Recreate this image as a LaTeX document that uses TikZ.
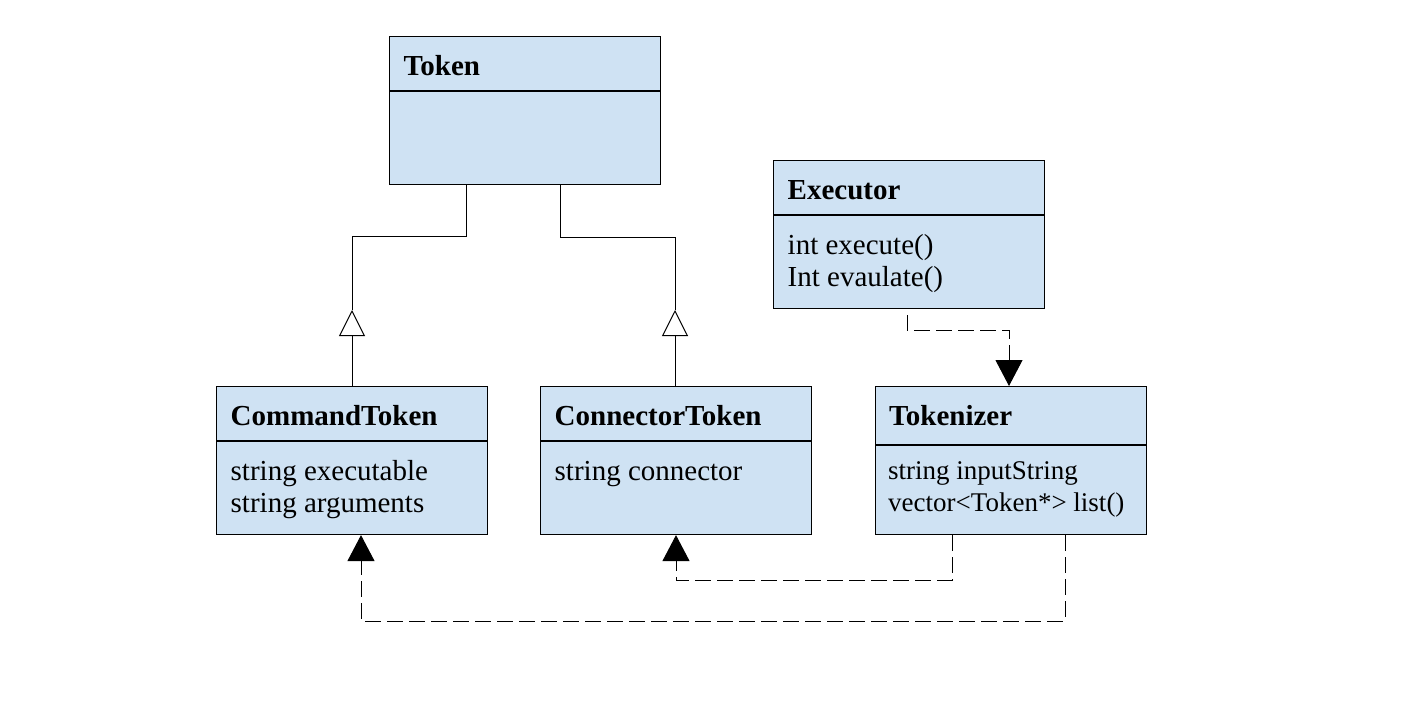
\documentclass[tikz,border=0pt]{standalone}
\usepackage{fontspec}
\setmainfont{Liberation Serif}
\usetikzlibrary{arrows.meta}
\definecolor{clsfill}{HTML}{CFE2F3}
\begin{document}
\begin{tikzpicture}[x=1pt,y=-1pt,
  cls/.style={draw=black, line width=1.1pt, fill=clsfill, anchor=north west,
    minimum width=271pt, minimum height=148pt, inner sep=0pt},
  divider/.style={line width=1.1pt},
  ttl/.style={anchor=base west, inner sep=0pt, font=\fontsize{29}{34}\selectfont\bfseries},
  body/.style={anchor=base west, inner sep=0pt, font=\fontsize{29}{34}\selectfont},
  smallbody/.style={anchor=base west, inner sep=0pt, font=\fontsize{27}{32}\selectfont},
  conn/.style={line width=1pt},
  inh/.style={conn, -{Triangle[open, length=26pt, width=26pt, fill=white]}},
  dep/.style={conn, dash pattern=on 16pt off 6pt, -{Triangle[length=26pt, width=27pt]}},
]
\useasboundingbox (0,0) rectangle (1401,712);

% classes
\node[cls] (Token) at (389,36) {};
\draw[divider] ([yshift=-55pt]Token.north west) -- ([yshift=-55pt]Token.north east);
\node[ttl] (Token-t) at ([xshift=14.5pt,yshift=-39pt]Token.north west) {Token};

\node[cls] (Executor) at (773,160) {};
\draw[divider] ([yshift=-55pt]Executor.north west) -- ([yshift=-55pt]Executor.north east);
\node[ttl] (Executor-t) at ([xshift=14.5pt,yshift=-39pt]Executor.north west) {Executor};
\node[body] (Executor-b1) at ([xshift=14.5pt,yshift=-94pt]Executor.north west) {int execute()};
\node[body] (Executor-b2) at ([xshift=14.5pt,yshift=-126pt]Executor.north west) {Int evaulate()};

\node[cls] (CommandToken) at (216,386) {};
\draw[divider] ([yshift=-55pt]CommandToken.north west) -- ([yshift=-55pt]CommandToken.north east);
\node[ttl] (CommandToken-t) at ([xshift=14.5pt,yshift=-39pt]CommandToken.north west) {CommandToken};
\node[body] (CommandToken-b1) at ([xshift=14.5pt,yshift=-94pt]CommandToken.north west) {string executable};
\node[body] (CommandToken-b2) at ([xshift=14.5pt,yshift=-126pt]CommandToken.north west) {string arguments};

\node[cls] (ConnectorToken) at (540,386) {};
\draw[divider] ([yshift=-55pt]ConnectorToken.north west) -- ([yshift=-55pt]ConnectorToken.north east);
\node[ttl] (ConnectorToken-t) at ([xshift=14.5pt,yshift=-39pt]ConnectorToken.north west) {ConnectorToken};
\node[body] (ConnectorToken-b1) at ([xshift=14.5pt,yshift=-94pt]ConnectorToken.north west) {string connector};

\node[cls] (Tokenizer) at (875,386) {};
\draw[divider] ([yshift=-59pt]Tokenizer.north west) -- ([yshift=-59pt]Tokenizer.north east);
\node[ttl] (Tokenizer-t) at ([xshift=14pt,yshift=-39pt]Tokenizer.north west) {Tokenizer};
\node[smallbody] (Tokenizer-b1) at ([xshift=13pt,yshift=-93pt]Tokenizer.north west) {string inputString};
\node[smallbody] (Tokenizer-b2) at ([xshift=13pt,yshift=-125pt]Tokenizer.north west) {vector<Token*> list()};

% inheritance
\coordinate (i1) at (352,310);
\coordinate (i1t) at (466,236);
\draw[inh] (i1 |- CommandToken.north) -- (i1);
\draw[conn] (i1) |- (i1t) -- (i1t |- Token.south);

\coordinate (i2) at (675,310);
\coordinate (i2t) at (560,237);
\draw[inh] (i2 |- ConnectorToken.north) -- (i2);
\draw[conn] (i2) |- (i2t) -- (i2t |- Token.south);

% dependencies
\coordinate (ex) at (907,315);
\coordinate (exturn) at (1009,330);
\draw[dep] (ex) |- (exturn) -- (exturn |- Tokenizer.north);

\coordinate (tza) at (952,580);
\coordinate (cb) at (676,580);
\draw[dep] (tza |- Tokenizer.south) -- (tza) -- (cb) -- (cb |- ConnectorToken.south);

\coordinate (tzb) at (1065,621);
\coordinate (cmb) at (361,621);
\draw[dep] (tzb |- Tokenizer.south) -- (tzb) -- (cmb) -- (cmb |- CommandToken.south);
\end{tikzpicture}
\end{document}
